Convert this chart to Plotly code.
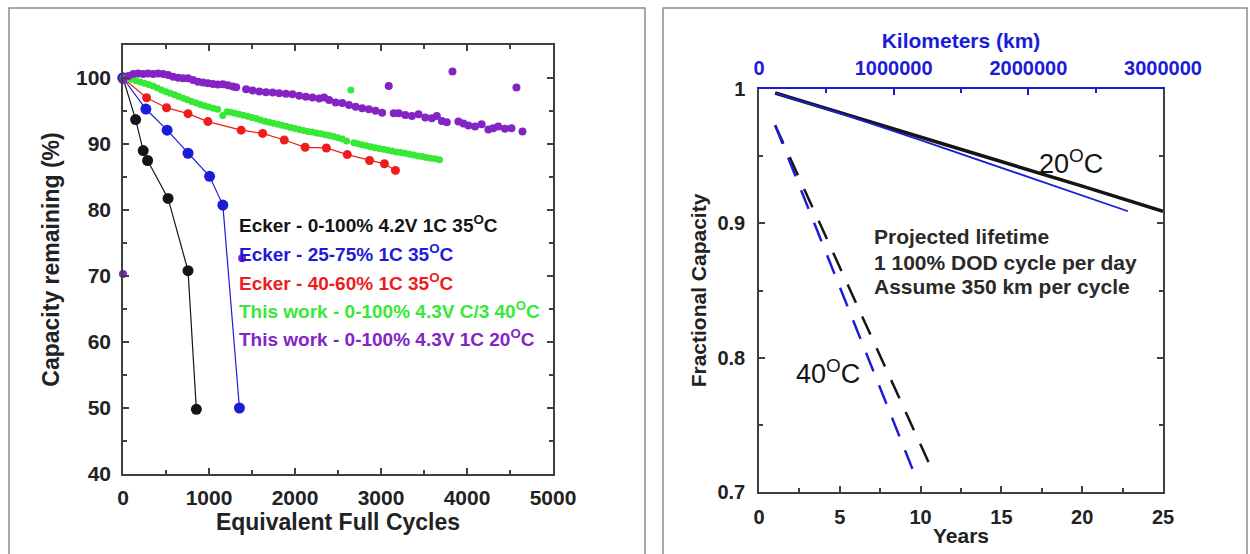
import plotly.graph_objects as go

# ---------------- Left panel: capacity retention vs equivalent full cycles ----------------
ecker_0_100_cycles = [0, 147, 235, 286, 524, 756, 853]
ecker_0_100_capacity = [100, 93.7, 89.0, 87.5, 81.75, 70.8, 49.8]

ecker_25_75_cycles = [0, 266, 513, 756, 1007, 1161, 1354]
ecker_25_75_capacity = [100, 95.3, 92.1, 88.6, 85.1, 80.75, 50.0]

ecker_40_60_cycles = [0, 274, 506, 756, 987, 1374, 1624, 1875, 2118, 2365, 2608, 2867, 3040, 3168]
ecker_40_60_capacity = [100, 97.0, 95.5, 94.6, 93.4, 92.1, 91.6, 90.6, 89.5, 89.4, 88.4, 87.5, 87.0, 86.0]

green_cycles = [0, 50, 100, 150, 200, 250, 300, 350, 400, 450, 500, 550, 600, 650, 700, 750,
                800, 850, 900, 950, 1000, 1050, 1100, 1160, 1210, 1250, 1300, 1350, 1400, 1450,
                1500, 1550, 1600, 1650, 1700, 1750, 1800, 1850, 1900, 1950, 2000, 2050, 2100,
                2150, 2200, 2250, 2300, 2350, 2400, 2450, 2500, 2550, 2600, 2685, 2730, 2780,
                2830, 2880, 2930, 2980, 3030, 3080, 3130, 3180, 3230, 3280, 3330, 3380, 3430,
                3480, 3530, 3580, 3630, 3680]
green_capacity = [100.0, 99.95, 99.8, 99.6, 99.4, 99.2, 99.0, 98.8, 98.5, 98.2, 97.9, 97.7,
                  97.45, 97.2, 96.95, 96.7, 96.45, 96.2, 96.0, 95.8, 95.6, 95.4, 95.25, 94.3,
                  94.9, 94.8, 94.65, 94.5, 94.35, 94.2, 94.0, 93.85, 93.65, 93.45, 93.3, 93.15,
                  93.0, 92.85, 92.7, 92.5, 92.35, 92.2, 92.05, 91.9, 91.8, 91.65, 91.55, 91.4,
                  91.3, 91.15, 90.95, 90.75, 90.45, 90.2, 90.05, 89.9, 89.75, 89.6, 89.45, 89.3,
                  89.2, 89.05, 88.95, 88.8, 88.7, 88.6, 88.45, 88.35, 88.2, 88.1, 87.95, 87.85,
                  87.75, 87.6]
green_stray_cycles = [2650]
green_stray_capacity = [98.2]

purple_cycles = [0, 62, 120, 178, 236, 293, 351, 409, 467, 525, 583, 641, 698, 756, 814, 872,
                 930, 987, 1045, 1103, 1161, 1219, 1277, 1316, 1432, 1508, 1586, 1663, 1740,
                 1817, 1895, 1971, 2049, 2126, 2203, 2280, 2338, 2396, 2473, 2550, 2627, 2705,
                 2781, 2859, 2936, 3013, 3148, 3206, 3283, 3360, 3437, 3515, 3591, 3649, 3707,
                 3765, 3900, 3958, 4016, 4094, 4170, 4248, 4305, 4363, 4441, 4517, 4645]
purple_capacity = [99.7, 100.3, 100.6, 100.7, 100.6, 100.7, 100.6, 100.7, 100.6, 100.45, 100.2,
                   100.05, 99.95, 99.95, 99.7, 99.45, 99.3, 99.2, 99.1, 99.0, 99.05, 98.9, 98.7,
                   98.6, 98.3, 98.1, 97.95, 97.85, 97.8, 97.7, 97.6, 97.55, 97.3, 97.15, 97.05,
                   96.9, 97.05, 96.65, 96.3, 96.2, 95.9, 95.65, 95.4, 95.25, 95.05, 94.75, 94.65,
                   94.65, 94.4, 94.25, 94.5, 94.0, 93.9, 94.25, 93.5, 93.3, 93.4, 93.1, 92.8,
                   92.65, 93.0, 92.2, 92.4, 92.65, 92.3, 92.4, 91.9]
purple_stray_cycles = [0, 1385, 3090, 3831, 4575]
purple_stray_capacity = [70.3, 72.7, 98.8, 101.0, 98.55]

legend_labels = [
    "Ecker - 0-100% 4.2V 1C 35<sup>O</sup>C",
    "Ecker - 25-75% 1C 35<sup>O</sup>C",
    "Ecker - 40-60% 1C 35<sup>O</sup>C",
    "This work - 0-100% 4.3V C/3 40<sup>O</sup>C",
    "This work - 0-100% 4.3V 1C 20<sup>O</sup>C",
]
legend_rows = [77.9, 73.5, 69.1, 64.85, 60.6]

# ---------------- Right panel: projected fractional capacity ----------------
years_20c = [1, 5, 10, 15, 20, 25]
capacity_20c = [0.997, 0.9825, 0.9645, 0.9462, 0.9277, 0.909]
km_20c = [120000, 600000, 1200000, 1800000, 2400000, 2740000]
capacity_20c_km = [0.997, 0.982, 0.962, 0.9415, 0.9205, 0.909]

years_40c = [1, 10.8]
capacity_40c = [0.973, 0.714]
km_40c = [120000, 1180000]
capacity_40c_km = [0.973, 0.707]

FONT = "Liberation Sans, Arial, sans-serif"
BLACK = "#151515"
BLUE = "#1c1cd8"
RED = "#ee1c1c"
GREEN = "#38e838"
PURPLE = "#8424c4"
AXIS = "#404040"

W, H = 1250, 554


def px(x):
    return x / W


def py(y):
    return 1 - y / H


fig = go.Figure()

# Left panel series
for cyc, cap, col, size in [
    (ecker_40_60_cycles, ecker_40_60_capacity, RED, 9),
    (ecker_0_100_cycles, ecker_0_100_capacity, BLACK, 11),
    (ecker_25_75_cycles, ecker_25_75_capacity, BLUE, 11),
]:
    fig.add_trace(go.Scatter(
        x=cyc, y=cap, mode="lines+markers", xaxis="x", yaxis="y",
        line=dict(color=col, width=1.2), marker=dict(color=col, size=size),
        cliponaxis=False, showlegend=False, hoverinfo="skip"))

fig.add_trace(go.Scatter(
    x=green_cycles + green_stray_cycles, y=green_capacity + green_stray_capacity,
    mode="markers", xaxis="x", yaxis="y", marker=dict(color=GREEN, size=7),
    cliponaxis=False, showlegend=False, hoverinfo="skip"))
fig.add_trace(go.Scatter(
    x=purple_cycles + purple_stray_cycles, y=purple_capacity + purple_stray_capacity,
    mode="markers", xaxis="x", yaxis="y", marker=dict(color=PURPLE, size=8),
    cliponaxis=False, showlegend=False, hoverinfo="skip"))

# Right panel series
fig.add_trace(go.Scatter(
    x=years_20c, y=capacity_20c, mode="lines", xaxis="x2", yaxis="y2",
    line=dict(color=BLACK, width=3.5), showlegend=False, hoverinfo="skip"))
fig.add_trace(go.Scatter(
    x=years_40c, y=capacity_40c, mode="lines", xaxis="x2", yaxis="y2",
    line=dict(color=BLACK, width=2.5, dash="20px,15px"), showlegend=False, hoverinfo="skip"))
fig.add_trace(go.Scatter(
    x=km_20c, y=capacity_20c_km, mode="lines", xaxis="x3", yaxis="y2",
    line=dict(color=BLUE, width=1.8), showlegend=False, hoverinfo="skip"))
fig.add_trace(go.Scatter(
    x=km_40c, y=capacity_40c_km, mode="lines", xaxis="x3", yaxis="y2",
    line=dict(color=BLUE, width=2.5, dash="20px,15px"), showlegend=False, hoverinfo="skip"))

tick_font_l = dict(family=FONT, size=21, color="#222222", weight="bold")
title_font_l = dict(family=FONT, size=23, color="#222222", weight="bold")
tick_font_r = dict(family=FONT, size=20, color="#222222", weight="bold")
title_font_r = dict(family=FONT, size=21, color="#222222", weight="bold")

common = dict(showline=True, linecolor=AXIS, linewidth=1.5, ticks="inside", ticklen=6,
              tickwidth=1.5, tickcolor=AXIS, showgrid=False, zeroline=False,
              automargin=False)

fig.update_layout(
    width=W, height=H, autosize=False, margin=dict(l=0, r=0, t=0, b=0, pad=0),
    paper_bgcolor="white", plot_bgcolor="white", showlegend=False,
    xaxis=dict(domain=[px(123), px(553)], range=[0, 5000], dtick=1000, anchor="y",
               mirror="ticks", tickfont=tick_font_l, ticklabelstandoff=4,
               minor=dict(ticks="inside", dtick=500, ticklen=4, tickcolor=AXIS),
               title=dict(text="Equivalent Full Cycles", font=title_font_l, standoff=2),
               **common),
    yaxis=dict(domain=[py(474), py(45)], range=[40, 105], dtick=10, anchor="x",
               mirror="ticks", tickfont=tick_font_l, ticklabelstandoff=6,
               minor=dict(ticks="inside", dtick=5, ticklen=4, tickcolor=AXIS),
               title=dict(text="Capacity remaining (%)", font=title_font_l, standoff=10),
               **common),
    xaxis2=dict(domain=[px(759), px(1163)], range=[0, 25], dtick=5, anchor="y2",
                tickfont=tick_font_r, ticklabelstandoff=6,
                minor=dict(ticks="inside", dtick=2.5, ticklen=4, tickcolor=AXIS),
                title=dict(text="Years", font=title_font_r, standoff=2),
                **common),
    yaxis2=dict(domain=[py(492), py(89)], range=[0.7, 1.0], dtick=0.1, anchor="x2",
                mirror="ticks", tickfont=tick_font_r, ticklabelstandoff=8,
                minor=dict(ticks="inside", dtick=0.05, ticklen=4, tickcolor=AXIS),
                title=dict(text="Fractional Capacity", font=title_font_r, standoff=5),
                **common),
    xaxis3=dict(overlaying="x2", side="top", anchor="y2", range=[0, 3000000],
                dtick=1000000, tickformat="d", showline=True, linecolor=BLUE, linewidth=1.5,
                ticks="inside", ticklen=6, tickwidth=1.5, tickcolor=BLUE, showgrid=False,
                zeroline=False, ticklabelstandoff=4, automargin=False,
                tickfont=dict(family=FONT, size=20, color=BLUE, weight="bold"),
                minor=dict(ticks="inside", dtick=500000, ticklen=4, tickcolor=BLUE),
                title=dict(text="Kilometers (km)", standoff=3,
                           font=dict(family=FONT, size=21, color=BLUE, weight="bold"))),
)

# Panel frames
for x0, x1 in [(9, 645), (663, 1247)]:
    fig.add_shape(type="rect", xref="paper", yref="paper",
                  x0=px(x0), x1=px(x1), y0=-0.05, y1=py(8),
                  line=dict(color="#8c8c8c", width=1.5), fillcolor="rgba(0,0,0,0)")

# Left panel series labels
label_colors = [BLACK, BLUE, RED, GREEN, PURPLE]
for text, row, col in zip(legend_labels, legend_rows, label_colors):
    fig.add_annotation(x=1320, y=row, xref="x", yref="y", text=text, showarrow=False,
                       xanchor="left", yanchor="middle",
                       font=dict(family=FONT, size=19, color=col, weight="bold"))

# Right panel labels
fig.add_annotation(x=19.3, y=0.946, xref="x2", yref="y2", text="20<sup>O</sup>C",
                   showarrow=False, font=dict(family=FONT, size=27, color=BLACK))
fig.add_annotation(x=4.27, y=0.789, xref="x2", yref="y2", text="40<sup>O</sup>C",
                   showarrow=False, font=dict(family=FONT, size=27, color=BLACK))
for text, yv in [("Projected lifetime", 0.890),
                 ("1 100% DOD cycle per day", 0.871),
                 ("Assume 350 km per cycle", 0.853)]:
    fig.add_annotation(x=6.99, y=yv, xref="x2", yref="y2", text=text, showarrow=False,
                       xanchor="left", yanchor="middle",
                       font=dict(family=FONT, size=21, color="#2a2a2a", weight="bold"))

fig.write_html("out.html")
